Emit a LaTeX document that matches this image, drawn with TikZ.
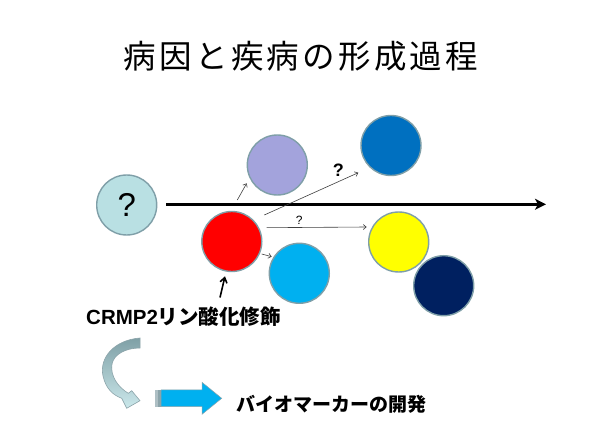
\documentclass[tikz,border=0pt]{standalone}
\usepackage{fontspec}
\setmainfont{Liberation Sans}
\newfontfamily\jp{Noto Sans CJK JP}
\newfontfamily\jptitle[LetterSpace=10]{Noto Sans CJK JP}
\usetikzlibrary{arrows.meta}
\definecolor{ballline}{HTML}{7F9FA8}
\definecolor{cq}{HTML}{B9E0E3}
\definecolor{clav}{HTML}{A3A3DC}
\definecolor{cblue}{HTML}{0070C0}
\definecolor{clblue}{HTML}{00B0F0}
\definecolor{cnavy}{HTML}{002060}
\definecolor{cyel}{HTML}{FFFF00}
\definecolor{cred}{HTML}{FF0000}
\definecolor{ctealdark}{HTML}{7FA0A6}
\definecolor{ctealight}{HTML}{CBE8EB}
\definecolor{arrowgrey}{HTML}{8CA4AA}
\definecolor{smallarr}{HTML}{404040}
\tikzset{
  ball/.style={circle, draw=ballline, line width=1.4pt, minimum size=60pt, inner sep=0pt},
  thinarr/.style={draw=smallarr, line width=0.6pt, -{Straight Barb[length=3pt,width=5pt]}},
  mainarr/.style={draw=black, line width=2.6pt, -{Stealth[length=11pt,width=11pt,inset=3pt]}},
  uparr/.style={draw=black, line width=1.6pt, -{Straight Barb[length=5pt,width=7pt]}},
  qlabel/.style={inner sep=0pt, font=\fontsize{12}{12}\selectfont},
}
\begin{document}
\begin{tikzpicture}[x=1pt,y=-1pt]
\useasboundingbox (0,0) rectangle (600,446);
\fill[white] (0,0) rectangle (600,446);

% title
\node[inner sep=0pt] (title) at (301,56) {\jptitle\fontsize{32.5}{32.5}\selectfont 病因と疾病の形成過程};

% circles
\node[ball, fill=cq] (q) at (126.7,205) {\fontsize{33}{33}\selectfont ?};
\node[ball, fill=clav] (lav) at (277.3,165) {};
\node[ball, fill=cblue] (blu) at (391,145.5) {};
\node[ball, fill=cred] (red) at (231.8,241.5) {};
\node[ball, fill=clblue] (lblu) at (299.3,273.3) {};
\node[ball, fill=cyel] (yel) at (398.7,242) {};
\node[ball, fill=cnavy] (navy) at (443.7,285.7) {};

% main arrow
\coordinate (ms) at (166,204.3);
\coordinate (me) at (546,204.3);
\draw[mainarr] (ms) -- (me);

% small arrows
\coordinate (a1s) at (237.3,200);
\coordinate (a1e) at (246.7,183.3);
\draw[thinarr] (a1s) -- (a1e);
\coordinate (a2s) at (264.3,215);
\coordinate (a2e) at (358.3,172.7);
\draw[thinarr] (a2s) -- (a2e);
\coordinate (a3s) at (266.7,227.7);
\coordinate (a3e) at (366.7,227);
\draw[thinarr] (a3s) -- (a3e);
\coordinate (a4s) at (261.7,254);
\coordinate (a4e) at (271.7,256.7);
\draw[thinarr] (a4s) -- (a4e);

\node[inner sep=0pt] (q2) at (338.3,170.3) {\bfseries\fontsize{18}{18}\selectfont ?};
\node[qlabel] (q3) at (299.3,220.3) {?};

% CRMP2 label and up arrow
\node[inner sep=0pt, anchor=west] (crmp) at (86,317) {\fontsize{20.5}{21}\selectfont\bfseries CRMP2{\jp\bfseries リン酸化修飾}};
\coordinate (ups) at (220,297.5);
\coordinate (upe) at (225,276.3);
\draw[uparr] (ups) -- (upe);

% curved arrow
\shade[top color=ctealdark, bottom color=ctealight, draw=arrowgrey, line width=0.6pt]
  (140,338) .. controls (114,340) and (99,358) .. (103,376)
  .. controls (106,389) and (113,395) .. (121.7,398.3)
  -- (126.7,408.3) -- (140,400.7) -- (131.7,390.7) -- (128.3,393.3)
  .. controls (118,387) and (110,376) .. (112,364)
  .. controls (114,354) and (126,348) .. (140,348) -- cycle;

% block arrow
\fill[arrowgrey!70] (155,390) rectangle (158,406.7);
\fill[arrowgrey] (158,390) rectangle (161,406.7);
\filldraw[fill=clblue, draw=arrowgrey, line width=0.5pt]
  (161,390) -- (202,390) -- (202,382.3) -- (221.7,398.3) -- (202,414.3) -- (202,406.7) -- (161,406.7) -- cycle;

\node[inner sep=0pt] (bio) at (331.5,404) {\jp\bfseries\fontsize{19}{19}\selectfont バイオマーカーの開発};
\end{tikzpicture}
\end{document}
